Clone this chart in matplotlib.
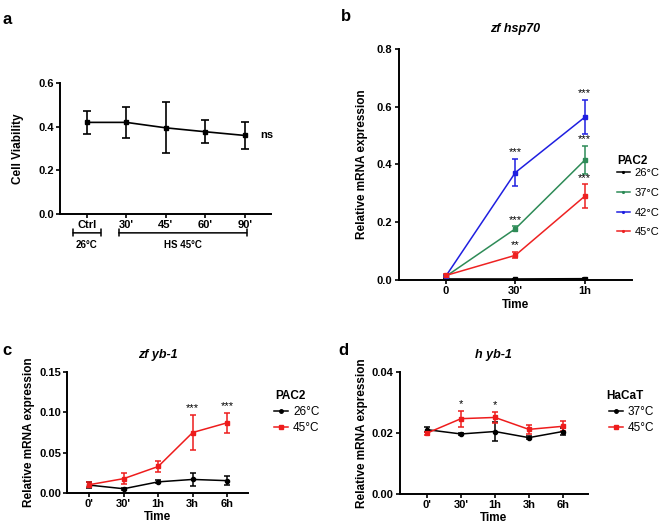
from matplotlib import pyplot as plt
from matplotlib.lines import Line2D

plt.rcParams['font.family'] = ['Liberation Sans', 'DejaVu Sans']
plt.rcParams['axes.linewidth'] = 1.4
plt.rcParams['xtick.major.width'] = 1.2
plt.rcParams['ytick.major.width'] = 1.2
plt.rcParams['xtick.major.size'] = 3
plt.rcParams['ytick.major.size'] = 3

# panel a: cell viability
a_labels = ['Ctrl', "30'", "45'", "60'", "90'"]
a_mean = [0.42, 0.42, 0.395, 0.377, 0.36]
a_err = [0.053, 0.07, 0.117, 0.052, 0.061]

# panel b: zf hsp70
b_labels = ['0', "30'", '1h']
b_series = ['26°C', '37°C', '42°C', '45°C']
b_colors = ['#000000', '#2e8b57', '#1f1fe0', '#ee2222']
b_mean = [[0.003, 0.003, 0.004],
          [0.012, 0.177, 0.415],
          [0.013, 0.372, 0.564],
          [0.015, 0.085, 0.290]]
b_err = [[0.001, 0.001, 0.001],
         [0.003, 0.008, 0.049],
         [0.003, 0.046, 0.060],
         [0.004, 0.011, 0.041]]
b_stars = [[None, None, None],
           [None, '***', '***'],
           [None, '***', '***'],
           [None, '**', '***']]

# panel c: zf yb-1
c_labels = ["0'", "30'", '1h', '3h', '6h']
c_series = ['26°C', '45°C']
c_mean = [[0.010, 0.0055, 0.014, 0.017, 0.0155],
          [0.0105, 0.018, 0.033, 0.075, 0.087]]
c_err = [[0.004, 0.001, 0.002, 0.0075, 0.0055],
         [0.003, 0.007, 0.0065, 0.022, 0.012]]
c_stars = [None, None, None, '***', '***']

# panel d: h yb-1
d_labels = ["0'", "30'", '1h', '3h', '6h']
d_series = ['37°C', '45°C']
d_mean = [[0.0211, 0.0197, 0.0205, 0.0185, 0.0205],
          [0.0200, 0.0247, 0.0251, 0.0212, 0.0222]]
d_err = [[0.0008, 0.0003, 0.0032, 0.0005, 0.0013],
         [0.0005, 0.0026, 0.0019, 0.0014, 0.0016]]
d_stars = [None, '*', '*', None, None]

label_font = dict(fontsize=8.5, fontweight='bold')


def style(ax):
    ax.spines['top'].set_visible(False)
    ax.spines['right'].set_visible(False)
    for lab in ax.get_xticklabels() + ax.get_yticklabels():
        lab.set_fontweight('bold')
        lab.set_fontsize(8)
    ax.tick_params(pad=1.5)


def legend(ax, title, names, colors, markers, tx, ty, x, y, spacing, size=8.5):
    # title drawn separately so its gap to the entries can be set freely
    figure.text(tx, ty, title, fontsize=8.5, fontweight='bold', va='center')
    handles = [Line2D([], [], color=c, marker=m, markersize=2.5, lw=1.1)
               for c, m in zip(colors, markers)]
    ax.legend(handles, names, loc='upper left', bbox_to_anchor=(x, y),
              bbox_transform=figure.transFigure, frameon=False, fontsize=size,
              handlelength=1.2, handletextpad=0.4, labelspacing=spacing,
              borderpad=0, borderaxespad=0)


figure = plt.figure(figsize=(6.59, 5.23), dpi=100)

# ---- a
ax = figure.add_axes([0.091, 0.591, 0.32, 0.250])
xs = list(range(len(a_labels)))
ax.errorbar(xs, a_mean, yerr=a_err, color='black', marker='s', markersize=3,
            capsize=3, lw=1.2, elinewidth=1.2, capthick=1.2)
ax.set_xlim(-0.68, 4.66)
ax.set_ylim(0, 0.6)
ax.set_yticks([0.0, 0.2, 0.4, 0.6])
ax.set_xticks(xs)
ax.set_xticklabels(a_labels)
ax.set_ylabel('Cell Viability', labelpad=10, **label_font)
ax.text(4.4, a_mean[-1], 'ns', fontsize=8, fontweight='bold', va='center')
trans = ax.get_xaxis_transform()
for x0, x1, lab in [(-0.35, 0.35, '26°C'), (0.81, 4.05, 'HS 45°C')]:
    ax.annotate('', xy=(x0, -0.145), xytext=(x1, -0.145), xycoords=trans,
                textcoords=trans, annotation_clip=False,
                arrowprops=dict(arrowstyle='|-|,widthA=0.25,widthB=0.25', lw=1.1,
                                shrinkA=0, shrinkB=0))
    ax.text((x0 + x1) / 2, -0.2, lab, transform=trans, ha='center', va='top',
            fontsize=7, fontweight='bold')
style(ax)
figure.text(0.004, 0.978, 'a', fontsize=12, fontweight='bold', va='top')

# ---- b
ax = figure.add_axes([0.605, 0.465, 0.354, 0.441])
xs = list(range(len(b_labels)))
for name, col, m, e, st in zip(b_series, b_colors, b_mean, b_err, b_stars):
    ax.errorbar(xs, m, yerr=e, color=col, marker='s', markersize=2.5,
                capsize=2.5, lw=1.1, elinewidth=1.1, capthick=1.1, label=name)
    for x, v, er, s in zip(xs, m, e, st):
        if s:
            ax.text(x, v + er + 0.006, s, ha='center', va='bottom', fontsize=8)
ax.set_xlim(-0.68, 2.68)
ax.set_ylim(0, 0.8)
ax.set_yticks([0.0, 0.2, 0.4, 0.6, 0.8])
ax.set_xticks(xs)
ax.set_xticklabels(b_labels)
ax.set_xlabel('Time', labelpad=2, **label_font)
ax.set_ylabel('Relative mRNA expression', labelpad=6, **label_font)
ax.set_title('zf hsp70', fontsize=9, fontweight='bold', style='italic', pad=12)
legend(ax, 'PAC2', b_series, b_colors, ['.'] * 4,
       0.937, 1 - 161 / 523, 0.936, 1 - 168 / 523, 0.88, size=8)
style(ax)
figure.text(0.518, 0.982, 'b', fontsize=12, fontweight='bold', va='top')

# ---- c
ax = figure.add_axes([0.102, 0.057, 0.274, 0.232])
xs = list(range(len(c_labels)))
for name, col, mk, m, e in zip(c_series, ['black', '#ee1c1c'], ['o', 's'], c_mean, c_err):
    ax.errorbar(xs, m, yerr=e, color=col, marker=mk, markersize=3,
                capsize=2.5, lw=1.1, elinewidth=1.1, capthick=1.1, label=name)
for x, v, er, s in zip(xs, c_mean[1], c_err[1], c_stars):
    if s:
        ax.text(x, v + er + 0.002, s, ha='center', va='bottom', fontsize=8)
ax.set_xlim(-0.64, 4.6)
ax.set_ylim(0, 0.15)
ax.set_yticks([0.0, 0.05, 0.10, 0.15])
ax.set_yticklabels(['0.00', '0.05', '0.10', '0.15'])
ax.set_xticks(xs)
ax.set_xticklabels(c_labels)
ax.set_xlabel('Time', labelpad=1, **label_font)
ax.set_ylabel('Relative mRNA expression', labelpad=3, **label_font)
ax.set_title('zf yb-1', fontsize=9, fontweight='bold', style='italic', pad=10)
legend(ax, 'PAC2', c_series, ['black', '#ee1c1c'], ['o', 's'],
       0.417, 1 - 396 / 523, 0.416, 1 - 406 / 523, 0.38)
style(ax)
figure.text(0.004, 0.345, 'c', fontsize=12, fontweight='bold', va='top')

# ---- d
ax = figure.add_axes([0.607, 0.055, 0.285, 0.234])
xs = list(range(len(d_labels)))
for name, col, mk, m, e in zip(d_series, ['black', '#ee1c1c'], ['o', 's'], d_mean, d_err):
    ax.errorbar(xs, m, yerr=e, color=col, marker=mk, markersize=3,
                capsize=2.5, lw=1.1, elinewidth=1.1, capthick=1.1, label=name)
for x, v, er, s in zip(xs, d_mean[1], d_err[1], d_stars):
    if s:
        ax.text(x, v + er + 0.0004, s, ha='center', va='bottom', fontsize=8)
ax.set_xlim(-0.8, 4.74)
ax.set_ylim(0, 0.04)
ax.set_yticks([0.0, 0.02, 0.04])
ax.set_yticklabels(['0.00', '0.02', '0.04'])
ax.set_xticks(xs)
ax.set_xticklabels(d_labels)
ax.set_xlabel('Time', labelpad=1, **label_font)
ax.set_ylabel('Relative mRNA expression', labelpad=3, **label_font)
ax.set_title('h yb-1', fontsize=9, fontweight='bold', style='italic', pad=10)
legend(ax, 'HaCaT', d_series, ['black', '#ee1c1c'], ['o', 's'],
       0.92, 1 - 396 / 523, 0.924, 1 - 406 / 523, 0.38)
style(ax)
figure.text(0.514, 0.345, 'd', fontsize=12, fontweight='bold', va='top')

figure.savefig('out.png', dpi=100)
